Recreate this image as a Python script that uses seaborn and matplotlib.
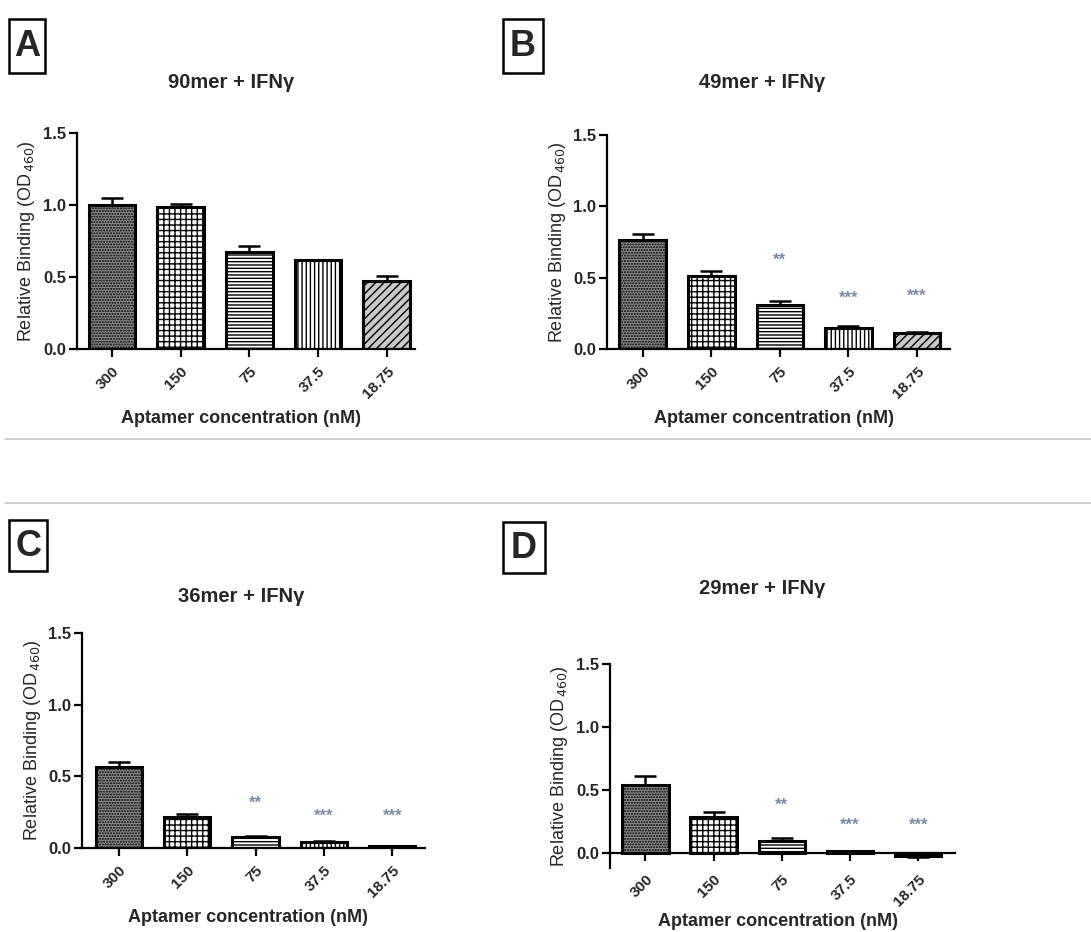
import numpy as np
import pandas as pd
import matplotlib
matplotlib.use("Agg")
import matplotlib.pyplot as plt
from matplotlib.patches import Rectangle
from matplotlib.lines import Line2D
import seaborn as sns

sns.set_theme(style="ticks")
plt.rcParams["font.family"] = ["Liberation Sans", "DejaVu Sans"]
plt.rcParams["hatch.linewidth"] = 1.0

# ---- data -------------------------------------------------------------
concentrations = ["300", "150", "75", "37.5", "18.75"]

binding_90mer = [1.00, 0.984, 0.671, 0.616, 0.470]
sem_90mer = [0.050, 0.023, 0.047, 0.004, 0.035]

binding_49mer = [0.765, 0.509, 0.310, 0.147, 0.112]
sem_49mer = [0.040, 0.035, 0.028, 0.012, 0.005]

binding_36mer = [0.562, 0.217, 0.077, 0.042, 0.012]
sem_36mer = [0.035, 0.019, 0.004, 0.008, 0.002]

binding_29mer = [0.541, 0.283, 0.092, 0.013, -0.021]
sem_29mer = [0.074, 0.042, 0.027, 0.004, 0.010]

sig_none = ["", "", "", "", ""]
sig_marks = ["", "", "**", "***", "***"]

panel_letters = ["A", "B", "C", "D"]
panel_titles = ["90mer + IFN\u03b3", "49mer + IFN\u03b3", "36mer + IFN\u03b3", "29mer + IFN\u03b3"]

# ---- layout (pixels) --------------------------------------------------
W, H = 1091, 932
fig = plt.figure(figsize=(W / 100, H / 100), dpi=100)
fig.patch.set_facecolor("white")

def px_axes(left, right, bottom, top):
    return fig.add_axes([left / W, (H - bottom) / H, (right - left) / W, (bottom - top) / H])

panels = [
    dict(vals=binding_90mer, errs=sem_90mer, sig=sig_none, star_y=None,
         box=(77, 415, 349, 133), xlim=(-0.51, 4.41), ylim=(0, 1.5),
         title_xy=(231, 83), letter_box=(9, 19, 36, 54), xlabel_y=418, ylabel_x=27),
    dict(vals=binding_49mer, errs=sem_49mer, sig=sig_marks, star_y=[0, 0, 0.625, 0.357, 0.369],
         box=(607, 950, 349, 135), xlim=(-0.52, 4.48), ylim=(0, 1.5),
         title_xy=(762, 83), letter_box=(503, 19, 40, 54), xlabel_y=418, ylabel_x=557),
    dict(vals=binding_36mer, errs=sem_36mer, sig=sig_marks, star_y=[0, 0, 0.315, 0.222, 0.222],
         box=(82, 425, 848, 633), xlim=(-0.54, 4.48), ylim=(0, 1.5),
         title_xy=(241, 597), letter_box=(9, 520, 38, 51), xlabel_y=917, ylabel_x=33),
    dict(vals=binding_29mer, errs=sem_29mer, sig=sig_marks, star_y=[0, 0, 0.375, 0.224, 0.217],
         box=(610, 955, 868, 664), xlim=(-0.52, 4.54), ylim=(-0.119, 1.5),
         title_xy=(762, 588), letter_box=(503, 522, 42, 51), xlabel_y=922, ylabel_x=560),
]

hatches = ["......", "+++", "-----", "||||", "////"]
faces = ["#8c8c8c", "white", "white", "white", "#c8c8c8"]

for i, p in enumerate(panels):
    left, right, bottom, top = p["box"]
    ax = px_axes(left, right, bottom, top)
    df = pd.DataFrame({"conc": concentrations, "od": p["vals"]})
    sns.barplot(data=df, x="conc", y="od", ax=ax, color="white", width=0.68,
                edgecolor="black", linewidth=2.2, errorbar=None, order=concentrations)
    for patch, h, fc in zip(ax.patches, hatches, faces):
        patch.set_hatch(h)
        patch.set_facecolor(fc)
        patch.set_edgecolor("black")

    vals = np.array(p["vals"])
    errs = np.array(p["errs"])
    upper = np.where(vals >= 0, errs, 0)
    lower = np.where(vals < 0, errs, 0)
    ax.errorbar(np.arange(len(vals)), vals, yerr=[lower, upper], fmt="none",
                ecolor="black", elinewidth=1.8, capsize=8, capthick=1.8, zorder=3)

    if p["star_y"] is not None:
        for xi, (mark, sy) in enumerate(zip(p["sig"], p["star_y"])):
            if mark:
                ax.text(xi, sy, mark, ha="center", va="center", fontsize=12,
                        color="#7c8aa6", fontweight="bold")

    # spine placement first: moving a spine resets the tick labels
    for side in ("top", "right"):
        ax.spines[side].set_visible(False)
    if p["ylim"][0] < 0:
        ax.spines["bottom"].set_position(("data", 0))
    for side in ("left", "bottom"):
        ax.spines[side].set_linewidth(1.6)
        ax.spines[side].set_color("black")

    ax.set_xlim(*p["xlim"])
    ax.set_ylim(*p["ylim"])
    ax.set_yticks([0.0, 0.5, 1.0, 1.5])
    ax.set_yticklabels(["0.0", "0.5", "1.0", "1.5"], fontsize=12, fontweight="bold")
    ax.set_xticks(range(len(concentrations)))
    ax.set_xticklabels(concentrations, rotation=45, ha="right", rotation_mode="anchor",
                       fontsize=11, fontweight="bold")
    ax.tick_params(axis="both", direction="out", length=6, width=1.6, color="black")
    ax.tick_params(axis="y", pad=2)
    ax.tick_params(axis="x", pad=5 if p["ylim"][0] >= 0 else 8)
    ax.set_xlabel("")
    ax.set_ylabel("")
    ax.set_facecolor("none")

    # axis titles
    cx = (left + right) / 2
    fig.text((cx - 5) / W, 1 - p["xlabel_y"] / H, "Aptamer concentration (nM)",
             ha="center", va="center", fontsize=13, fontweight="bold")
    fig.text(p["ylabel_x"] / W, 1 - (bottom + top) / 2 / H,
             "Relative Binding (OD$_{\\,460}$)", rotation=90, ha="center", va="center",
             fontsize=13)

    # chart title
    tx, ty = p["title_xy"]
    fig.text(tx / W, 1 - ty / H, panel_titles[i], ha="center", va="center",
             fontsize=14.5, fontweight="bold")

    # boxed panel letter
    bx, by, bw, bh = p["letter_box"]
    fig.add_artist(Rectangle((bx / W, 1 - (by + bh) / H), bw / W, bh / H,
                             transform=fig.transFigure, fill=False,
                             edgecolor="black", linewidth=1.8))
    fig.text((bx + bw / 2) / W, 1 - (by + bh / 2 + 1) / H, panel_letters[i],
             ha="center", va="center", fontsize=26, fontweight="bold")

# thin grey separators between the two rows
for yy in (439, 503):
    fig.add_artist(Line2D([5 / W, 1.0], [1 - yy / H, 1 - yy / H],
                          transform=fig.transFigure, color="#c8c8c8", linewidth=1.2))

fig.savefig("out.png", dpi=100, facecolor="white")
